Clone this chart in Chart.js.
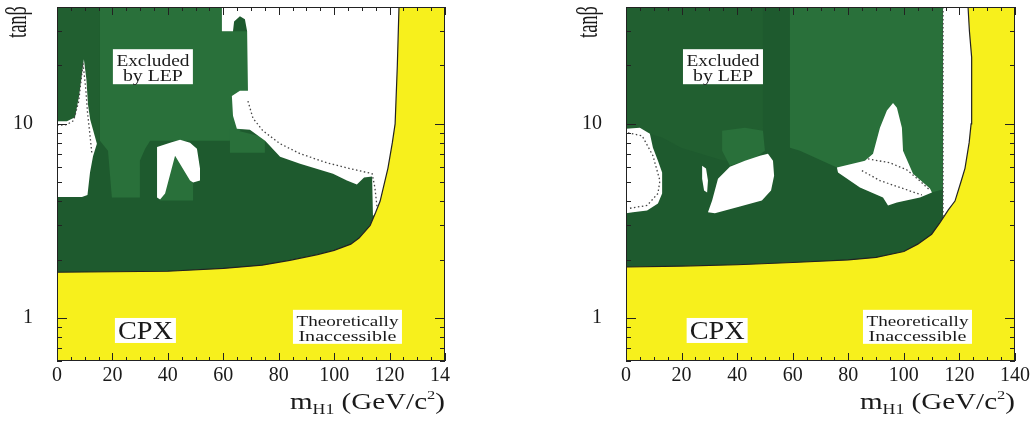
<!DOCTYPE html>
<html>
<head>
<meta charset="utf-8">
<script src="https://cdn.jsdelivr.net/npm/chart.js@4.4.1/dist/chart.umd.min.js"></script>
<style>
  html, body { margin: 0; padding: 0; background: #fff; }
  #wrap { position: relative; width: 1035px; height: 426px; overflow: hidden; }
  .pane { position: absolute; top: 0; }
  #paneA { left: 0; }
  #paneB { left: 570px; }
</style>
</head>
<body>
<div id="wrap">
  <div class="pane" id="paneA"><canvas id="cpxA" width="450" height="426"></canvas></div>
  <div class="pane" id="paneB"><canvas id="cpxB" width="465" height="426"></canvas></div>
</div>
<script>
// axis values
const massTicks = [0, 20, 40, 60, 80, 100, 120, 140];
const tanbTicks = [1, 10];
const tanbMinor = [0.6, 0.7, 0.8, 0.9, 2, 3, 4, 5, 6, 7, 8, 9, 20, 30, 40];
const fullPlane = [[0, 0.6], [140, 0.6], [140, 40], [0, 40]];

// ---- left panel (mH1, tanb) ----
const edgeA = [[0,1.72],[40,1.74],[60,1.80],[74,1.87],[84,1.98],[94,2.12],[100,2.23],[106,2.40],[109,2.58],[113,3.0],[115,3.5],[116.6,4.0],[119.4,5.9],[121,8],[122,10],[122.8,20],[123.4,40]];
const interA = [[0,40],[15.5,40],[15.5,8.18],[0,8.18]];
const midA1 = [[15.5,40],[59.5,40],[59.5,30],[68.9,30],[68.9,13.1],[67.5,9.65],[62.4,8.18],[33.6,8.18],[31.8,7.44],[29.9,6.46],[29.9,4.17],[19.8,4.17],[18.4,7.27],[15.5,8.18]];
const midA2 = [[37.2,4.03],[42.6,7.02],[49.1,4.92],[49.1,4.03]];
const midA3 = [[62.4,9.43],[75,8.5],[75,7.1],[62.4,7.1]];
const holeA1 = [[0,10.3],[3.6,10.3],[6.5,10.8],[8.0,14],[9.7,21.5],[10.6,17],[11.2,12.5],[12.0,10.5],[14.4,7.9],[13.0,6.8],[11.9,5.6],[11.0,4.3],[9.0,4.2],[0,4.2]];
const holeA2 = [[36.1,7.6],[40.8,7.98],[44.4,8.28],[48.0,7.98],[50.5,7.44],[51.6,5.88],[51.6,5.10],[49.1,4.98],[48.0,5.10],[42.6,6.85],[39.0,4.38],[37.2,4.08],[36.1,4.17],[36.1,5.88]];
const holeA3 = [[59.5,40],[59.5,30],[63.5,30],[63.9,33.7],[66.0,35.8],[67.8,34.6],[68.6,30],[68.9,14.8],[66.0,14.8],[63.1,13.9],[63.5,11.0],[64.9,9.43],[69.6,9.32],[75.1,8.18],[80.5,6.77],[87.7,6.23],[99.6,5.54],[104.6,5.10],[108.2,4.87],[110.8,5.29],[113.7,5.35],[114.0,4.27],[114.0,3.37],[125,3.37],[125,40]];
const dotA1 = [[0,9.8],[3.5,9.9],[6.0,10.4],[7.8,13],[9.4,20.5],[10.4,15],[11.0,11.5],[11.8,9],[12.6,7.0]];
const dotA2 = [[68.9,13.1],[70.7,10.7],[74.3,9.21],[80.5,7.9],[87.7,7.02],[97.4,6.3],[105.7,5.88],[113.7,5.54],[114.7,4.70],[115.5,3.71]];

// ---- right panel ----
const edgeB = [[0,1.83],[20,1.85],[40,1.88],[60,1.93],[80,1.99],[90,2.05],[100,2.2],[105,2.4],[110,2.7],[113,3.1],[116,3.6],[118.4,4.0],[120.5,5],[122,5.9],[123.5,8],[124.2,10],[124.5,15],[124.3,22],[123.6,30],[123.1,40]];
const interB = [[0,40],[49.3,40],[49.3,6.2],[34.6,6.5],[20,7.5],[13,8.5],[0,9.6]];
const midB1 = [[59.0,40],[114.1,40],[114.1,4.6],[110.1,4.43],[97.5,3.93],[92.5,4.17],[84.2,4.70],[75.9,5.95],[62.6,7.27],[59.0,7.53]];
const midB2 = [[34.6,9.21],[42.8,9.54],[49.3,9.21],[50.0,7.27],[46.4,6.69],[37.4,6.09],[34.6,7.27]];
const holeB1 = [[0,9.43],[5.0,9.54],[8.6,8.89],[9.7,7.53],[11.5,6.46],[13.0,5.61],[13.0,4.38],[11.5,3.89],[7.6,3.58],[2.5,3.50],[0,3.46]];
const holeB2 = [[27.4,6.09],[28.8,5.88],[29.5,5.10],[29.2,4.43],[28.1,4.53],[27.4,5.22]];
const holeB3 = [[31.0,4.03],[33.1,5.22],[37.4,6.02],[42.8,6.46],[48.2,6.85],[51.1,7.02],[52.9,6.46],[53.3,5.41],[52.2,4.53],[48.9,4.03],[41.0,3.75],[32.0,3.46],[29.5,3.50]];
const holeB4 = [[96.1,12.8],[93.9,11.7],[91.4,9.54],[88.9,7.02],[86.0,6.46],[75.9,5.95],[76.3,5.61],[84.2,4.70],[92.5,4.17],[94.3,3.80],[97.5,3.93],[105.8,4.17],[110.1,4.43],[109.4,4.64],[103.3,5.54],[99.7,7.27],[99.3,9.54],[97.5,12.1]];
const holeB5 = [[114.1,40],[114.1,3.07],[130,3.07],[130,40]];
const dotB1 = [[0.7,8.99],[5.8,8.68],[9.7,6.85],[12.2,5.10],[11.5,4.38],[7.6,3.80],[0.7,3.66]];
const dotB2 = [[87.1,6.6],[95.0,6.3],[101,5.8],[105,5.2],[109.4,4.55]];
const dotB3 = [[84.9,5.74],[91.4,5.1],[98.6,4.7],[106.5,4.3]];
const dotB4 = [[114.1,40],[114.1,3.25]];

const GREEN_DARK = '#1e5a2e', GREEN_INT = '#215f30', GREEN_MID = '#29703a';
const YELLOW = '#f7f01c', INK = '#1a1a1a';
const SERIF = "'Liberation Serif', 'DejaVu Serif', serif";

const pts = arr => arr.map(([x, y]) => ({ x, y }));

function area(arr, color) {
  return { data: pts(arr), fill: 'shape', backgroundColor: color, borderColor: 'rgba(0,0,0,0)',
           borderWidth: 0, pointRadius: 0, tension: 0 };
}
function dotted(arr) {
  return { data: pts(arr), fill: false, borderColor: '#444', borderWidth: 1.3, borderDash: [1.5, 2.5],
           pointRadius: 0, tension: 0 };
}
function edgeLine(arr) {
  return { data: pts(arr), fill: false, borderColor: '#222', borderWidth: 1.2, pointRadius: 0, tension: 0 };
}

// draws scaled text so that it spans a given width
function fitText(ctx, text, cx, base, size, width) {
  ctx.font = size + 'px ' + SERIF;
  const w = ctx.measureText(text).width;
  ctx.save();
  ctx.translate(cx, base);
  ctx.scale(width / w, 1);
  ctx.textAlign = 'center';
  ctx.textBaseline = 'alphabetic';
  ctx.fillText(text, 0, 0);
  ctx.restore();
}

function decor(p) {
  return {
    id: 'decor',
    afterDatasetsDraw(chart) {
      const { ctx, chartArea: a, scales: { x, y } } = chart;
      ctx.save();
      ctx.strokeStyle = '#222';
      ctx.lineWidth = 1;
      ctx.strokeRect(a.left + 0.5, a.top + 0.5, a.right - a.left - 1, a.bottom - a.top - 1);
      ctx.beginPath();
      for (let v = 0; v <= 140; v += 5) {
        const px = Math.round(x.getPixelForValue(v)) + 0.5;
        const len = v % 20 === 0 ? 8 : 4;
        ctx.moveTo(px, a.bottom); ctx.lineTo(px, a.bottom - len);
        ctx.moveTo(px, a.top); ctx.lineTo(px, a.top + len);
      }
      tanbMinor.concat(tanbTicks).forEach(v => {
        const py = Math.round(y.getPixelForValue(v)) + 0.5;
        const len = tanbTicks.includes(v) ? 10 : 5;
        ctx.moveTo(a.left, py); ctx.lineTo(a.left + len, py);
        ctx.moveTo(a.right, py); ctx.lineTo(a.right - len, py);
      });
      ctx.stroke();

      // Excluded by LEP
      let cx = x.getPixelForValue(p.lep[0]), cy = y.getPixelForValue(p.lep[1]);
      ctx.fillStyle = '#fff';
      ctx.fillRect(cx - 40, cy - 17.5, 80, 35);
      ctx.fillStyle = INK;
      fitText(ctx, 'Excluded', cx, cy - 0.5, 16, 73);
      fitText(ctx, 'by LEP', cx, cy + 14.5, 16, 60);
      // CPX
      cx = x.getPixelForValue(p.cpx[0]); cy = y.getPixelForValue(p.cpx[1]);
      ctx.fillStyle = '#fff';
      ctx.fillRect(cx - 30.5, cy - 12.5, 61, 25);
      ctx.fillStyle = INK;
      fitText(ctx, 'CPX', cx, cy + 8.5, 25, 55);
      // Theoretically Inaccessible
      cx = x.getPixelForValue(p.theo[0]); cy = y.getPixelForValue(p.theo[1]);
      ctx.fillStyle = '#fff';
      ctx.fillRect(cx - 54.5, cy - 17, 109, 34);
      ctx.fillStyle = INK;
      fitText(ctx, 'Theoretically', cx, cy - 1, 15, 102);
      fitText(ctx, 'Inaccessible', cx, cy + 14, 15, 98);

      // axis title m_H1 (GeV/c^2)
      const parts = [['m', 23, 0], ['H1', 14, 5], [' (GeV/c', 23, 0], ['2', 13, -10], [')', 23, 0]];
      let total = 0;
      parts.forEach(pt => { ctx.font = pt[1] + 'px ' + SERIF; pt.push(ctx.measureText(pt[0]).width); total += pt[3]; });
      const sx = 155 / total;
      ctx.save();
      ctx.translate(a.right - 155, 409);
      ctx.scale(sx, 1);
      ctx.textAlign = 'left';
      let off = 0;
      parts.forEach(pt => { ctx.font = pt[1] + 'px ' + SERIF; ctx.fillText(pt[0], off, pt[2]); off += pt[3]; });
      ctx.restore();

      // tan beta title
      ctx.save();
      ctx.translate(p.tanX, 22);
      ctx.rotate(-Math.PI / 2);
      ctx.font = '29px ' + SERIF;
      const tw = ctx.measureText('tanβ').width;
      ctx.scale(32 / tw, 1);
      ctx.textAlign = 'center';
      ctx.fillText('tanβ', 0, 0);
      ctx.restore();
      ctx.restore();
    }
  };
}

function buildPanel(canvasId, p) {
  const layers = [area(fullPlane, GREEN_DARK)];
  p.inter.forEach(r => layers.push(area(r, GREEN_INT)));
  p.mid.forEach(r => layers.push(area(r, GREEN_MID)));
  p.holes.forEach(r => layers.push(area(r, '#ffffff')));
  p.dots.forEach(r => layers.push(dotted(r)));
  layers.push(area(p.edge.concat([[140, 40], [140, 0.6], [0, 0.6]]), YELLOW));
  layers.push(edgeLine(p.edge));
  layers.forEach((d, i) => { d.order = layers.length - i; });

  const font = { family: SERIF, size: 20 };
  new Chart(document.getElementById(canvasId), {
    type: 'line',
    data: { datasets: layers },
    options: {
      responsive: false,
      animation: false,
      events: [],
      layout: { padding: { top: 7, right: p.padRight, left: 0, bottom: 0 } },
      plugins: { legend: { display: false }, tooltip: { enabled: false } },
      scales: {
        x: {
          type: 'linear', min: 0, max: 140,
          border: { display: false },
          grid: { display: false, drawTicks: false },
          afterBuildTicks: s => { s.ticks = massTicks.map(v => ({ value: v })); },
          ticks: { font, color: INK, padding: 3, maxRotation: 0, autoSkip: false },
          afterFit: s => { s.height = 65; s.paddingLeft = 0; s.paddingRight = 0; }
        },
        y: {
          type: 'logarithmic', min: 0.6, max: 40,
          border: { display: false },
          grid: { display: false, drawTicks: false },
          afterBuildTicks: s => { s.ticks = tanbTicks.map(v => ({ value: v })); },
          ticks: { font, color: INK, padding: 24, autoSkip: false, callback: v => String(v) },
          afterFit: s => { s.width = p.axisW; s.paddingTop = 0; s.paddingBottom = 0; }
        }
      }
    },
    plugins: [decor(p)]
  });
}

buildPanel('cpxA', {
  edge: edgeA, inter: [interA], mid: [midA1, midA2, midA3],
  holes: [holeA1, holeA2, holeA3], dots: [dotA1, dotA2],
  lep: [34.6, 19.7], cpx: [31.9, 0.862], theo: [104.8, 0.90],
  axisW: 57, padRight: 5, tanX: 26
});
buildPanel('cpxB', {
  edge: edgeB, inter: [interB], mid: [midB1, midB2],
  holes: [holeB1, holeB2, holeB3, holeB4, holeB5], dots: [dotB1, dotB2, dotB3, dotB4],
  lep: [34.9, 19.7], cpx: [32.8, 0.862], theo: [104.9, 0.90],
  axisW: 56, padRight: 20, tanX: 27
});
</script>
</body>
</html>
